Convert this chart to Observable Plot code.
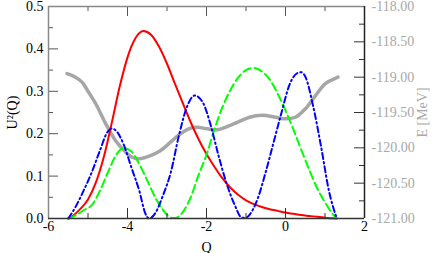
<!DOCTYPE html>
<html><head><meta charset="utf-8">
<script src="https://cdn.jsdelivr.net/npm/d3@7"></script>
<script src="https://cdn.jsdelivr.net/npm/@observablehq/plot@0.6"></script>
<style>
body{margin:0;background:#fff}
</style>
</head><body><div id="chart"></div>
<script>
// Series data
const redQ = [-5.5,-5.4,-5.2,-5.0,-4.8,-4.6,-4.4,-4.2,-4.0,-3.8,-3.6,-3.4,-3.2,-3.0,-2.8,-2.6,-2.4,-2.2,-2.0,-1.8,-1.6,-1.4,-1.2,-1.0,-0.8,-0.6,-0.4,-0.2,0.0,0.2,0.4,0.6,0.8,1.0,1.3];
const redU = [0,0.005,0.022,0.045,0.085,0.145,0.225,0.31,0.38,0.425,0.442,0.433,0.405,0.365,0.318,0.272,0.227,0.187,0.152,0.122,0.095,0.073,0.056,0.043,0.034,0.027,0.022,0.018,0.014,0.011,0.008,0.006,0.004,0.002,0];

const greenQ = [-5.5,-5.3,-5.1,-4.9,-4.7,-4.5,-4.3,-4.1,-3.9,-3.7,-3.5,-3.3,-3.1,-2.9,-2.8,-2.6,-2.4,-2.2,-2.0,-1.8,-1.6,-1.4,-1.2,-1.0,-0.8,-0.6,-0.4,-0.2,0.0,0.2,0.4,0.6,0.8,1.0,1.2,1.3];
const greenU = [0,0.008,0.02,0.032,0.065,0.108,0.148,0.166,0.158,0.128,0.09,0.05,0.02,0.002,0.001,0.015,0.05,0.103,0.15,0.21,0.262,0.302,0.332,0.35,0.355,0.347,0.328,0.295,0.255,0.21,0.162,0.115,0.072,0.038,0.01,0];

const blueQ = [-5.5,-5.3,-5.1,-4.9,-4.7,-4.5,-4.4,-4.3,-4.1,-3.9,-3.7,-3.55,-3.45,-3.3,-3.1,-2.9,-2.7,-2.5,-2.3,-2.1,-1.9,-1.7,-1.5,-1.3,-1.1,-1.0,-0.9,-0.7,-0.5,-0.3,-0.1,0.1,0.3,0.4,0.5,0.7,0.9,1.1,1.3];
const blueU = [0,0.03,0.068,0.11,0.16,0.205,0.212,0.208,0.175,0.12,0.065,0.012,0,0.012,0.055,0.11,0.195,0.262,0.29,0.275,0.222,0.15,0.085,0.035,0.002,0.002,0.01,0.048,0.11,0.18,0.25,0.315,0.343,0.345,0.335,0.265,0.17,0.065,0];

const grayQ = [-5.53,-5.35,-5.15,-5.0,-4.8,-4.55,-4.3,-4.05,-3.9,-3.7,-3.42,-3.17,-2.91,-2.66,-2.4,-2.23,-1.98,-1.73,-1.48,-1.14,-0.93,-0.59,-0.25,0.0,0.25,0.5,0.76,1.01,1.27,1.33];
const grayE = [-118.95,-118.99,-119.07,-119.2,-119.38,-119.66,-119.9,-120.06,-120.13,-120.155,-120.11,-120.04,-119.92,-119.8,-119.72,-119.71,-119.73,-119.745,-119.7,-119.62,-119.57,-119.54,-119.567,-119.59,-119.567,-119.45,-119.26,-119.09,-119.015,-119.0];

// Tick values
const xMajor = [-6,-4,-2,0,2];
const xMinor = [-5,-3,-1,1];
const yMajor = [0,0.1,0.2,0.3,0.4,0.5];
const yMinor = [0.05,0.15,0.25,0.35,0.45];
const eMajor = [-121,-120.5,-120,-119.5,-119,-118.5,-118];
const eMinor = [-120.75,-120.25,-119.75,-119.25,-118.75,-118.25];

const W = 436, H = 253, mL = 48, mR = 72, mT = 6, mB = 35;
const pw = W - mL - mR, ph = H - mT - mB;
const eToU = d3.scaleLinear([-121, -118], [0, 0.5]);
const rows = (qs, vs) => qs.map((q, i) => ({q, v: vs[i]}));
const FAMILY = "'Liberation Serif', 'DejaVu Serif', serif";
const font = {fontFamily: FAMILY, fontSize: 14};

const chart = Plot.plot({
  width: W, height: H,
  marginLeft: mL, marginRight: mR, marginTop: mT, marginBottom: mB,
  x: {domain: [-6, 2]},
  y: {domain: [0, 0.5]},
  style: {background: "white", color: "black", fontFamily: FAMILY, fontSize: "14px"},
  marks: [
    Plot.line(rows(grayQ, grayE.map(eToU)), {x: "q", y: "v", stroke: "#a6a6a6", strokeWidth: 3.5, curve: "catmull-rom"}),
    Plot.line(rows(redQ, redU), {x: "q", y: "v", stroke: "#ff0000", strokeWidth: 2, curve: "monotone-x"}),
    Plot.line(rows(greenQ, greenU), {x: "q", y: "v", stroke: "#00ff00", strokeWidth: 2, strokeDasharray: "8,4", curve: "monotone-x"}),
    Plot.line(rows(blueQ, blueU), {x: "q", y: "v", stroke: "#0000ff", strokeWidth: 2, strokeDasharray: "6,3,1.5,3", curve: "monotone-x"}),
    // inward ticks
    Plot.ruleX(xMajor, {x: d => d, insetTop: ph - 10, stroke: "#333"}),
    Plot.ruleX(xMinor, {x: d => d, insetTop: ph - 5, stroke: "#333"}),
    Plot.ruleX(xMajor, {x: d => d, insetBottom: ph - 10, stroke: "#555"}),
    Plot.ruleX(xMinor, {x: d => d, insetBottom: ph - 5, stroke: "#555"}),
    Plot.ruleY(yMajor, {y: d => d, insetRight: pw - 10, stroke: "#555"}),
    Plot.ruleY(yMinor, {y: d => d, insetRight: pw - 5, stroke: "#555"}),
    Plot.ruleY(eMajor.map(eToU), {y: d => d, insetLeft: pw - 10, stroke: "#333"}),
    Plot.ruleY(eMinor.map(eToU), {y: d => d, insetLeft: pw - 5, stroke: "#333"}),
    // frame
    Plot.ruleX([-6], {x: d => d, stroke: "#888", strokeWidth: 1.5}),
    Plot.ruleY([0.5], {y: d => d, stroke: "#888", strokeWidth: 1.5}),
    Plot.ruleY([0], {y: d => d, stroke: "#333", strokeWidth: 1.5}),
    Plot.ruleX([2], {x: d => d, stroke: "#222", strokeWidth: 1.5}),
    // axes
    Plot.axisX({...font, ticks: xMajor, tickSize: 0, tickPadding: 3, tickFormat: d => String(d), label: "Q", labelAnchor: "center", labelArrow: "none", labelOffset: 33}),
    Plot.axisY({...font, ticks: yMajor, tickSize: 0, tickPadding: 5, tickFormat: d => d.toFixed(1), label: "U²(Q)", labelAnchor: "center", labelArrow: "none", labelOffset: 41}),
    Plot.axisY({...font, anchor: "right", ticks: eMajor.map(eToU), tickSize: 0, tickPadding: 7, tickFormat: u => eToU.invert(u).toFixed(2), color: "#a8a8a8", label: "E [MeV]", labelAnchor: "center", labelArrow: "none", labelOffset: 62})
  ]
});
d3.select(chart).selectAll("text, g").style("font-family", FAMILY);
document.getElementById("chart").appendChild(chart);
</script>
</body></html>
